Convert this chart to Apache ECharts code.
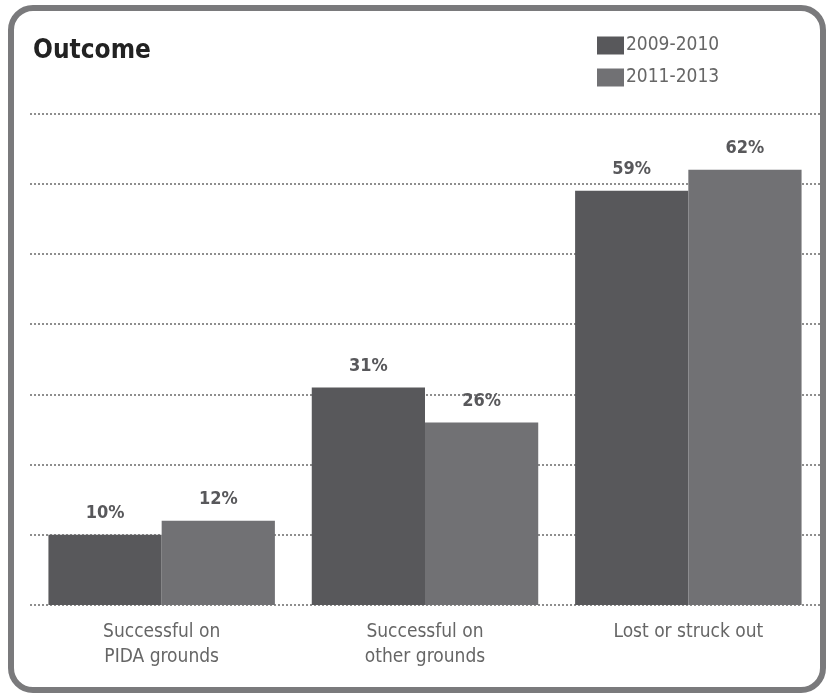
<!DOCTYPE html>
<html>
<head>
<meta charset="utf-8">
<script src="https://cdn.jsdelivr.net/npm/echarts@6/dist/echarts.min.js"></script>
<style>
  html, body { margin: 0; padding: 0; background: #fff; }
  #chart { width: 826px; height: 695px; }
</style>
</head>
<body>
<div id="chart"></div>
<script>
// chart data
const categories = ['Successful on\nPIDA grounds', 'Successful on\nother grounds', 'Lost or struck out']
const seriesNames = ['2009-2010', '2011-2013']
const values2009 = [10, 31, 59]
const values2011 = [12, 26, 62]
const colors = ['#58585b', '#717174']

const FONT = "'Liberation Sans Narrow', 'DejaVu Sans Condensed', 'Liberation Sans', sans-serif"

const chart = echarts.init(document.getElementById('chart'))

const barLabel = {
  show: true,
  position: 'top',
  distance: 12,
  formatter: '{c}%',
  fontFamily: FONT,
  fontWeight: 'bold',
  fontSize: 18,
  color: '#58585b'
}

chart.setOption({
  animation: false,
  title: {
    text: 'Outcome',
    left: 28,
    top: 33,
    textStyle: { fontFamily: FONT, fontWeight: 'bold', fontSize: 26, color: '#222' }
  },
  legend: {
    orient: 'vertical',
    left: 597,
    top: 36,
    padding: 0,
    itemWidth: 27,
    itemHeight: 18,
    itemGap: 13,
    icon: 'rect',
    textStyle: { fontFamily: FONT, fontSize: 19, color: '#666', padding: [0, 0, 0, -3] },
    data: seriesNames
  },
  graphic: [{
    type: 'rect',
    shape: { x: 11, y: 8, width: 812, height: 682, r: 22 },
    style: { fill: 'none', stroke: '#7a7a7c', lineWidth: 6 },
    z: 10
  }],
  grid: { left: 30, right: 6, top: 113.6, bottom: 90 },
  xAxis: {
    type: 'category',
    data: categories,
    axisLine: { show: false },
    axisTick: { show: false },
    axisLabel: {
      fontFamily: FONT,
      fontSize: 19,
      color: '#666',
      lineHeight: 25,
      margin: 15
    }
  },
  yAxis: {
    type: 'value',
    min: 0,
    max: 70,
    interval: 10,
    axisLabel: { show: false },
    axisLine: { show: false },
    axisTick: { show: false },
    splitLine: { lineStyle: { type: [2, 2], color: '#6a6a6a', width: 1.5 } }
  },
  series: [
    {
      name: seriesNames[0],
      type: 'bar',
      data: values2009,
      barGap: '0%',
      barCategoryGap: '14%',
      itemStyle: { color: colors[0] },
      label: barLabel
    },
    {
      name: seriesNames[1],
      type: 'bar',
      data: values2011,
      itemStyle: { color: colors[1] },
      label: barLabel
    }
  ]
})
</script>
</body>
</html>
